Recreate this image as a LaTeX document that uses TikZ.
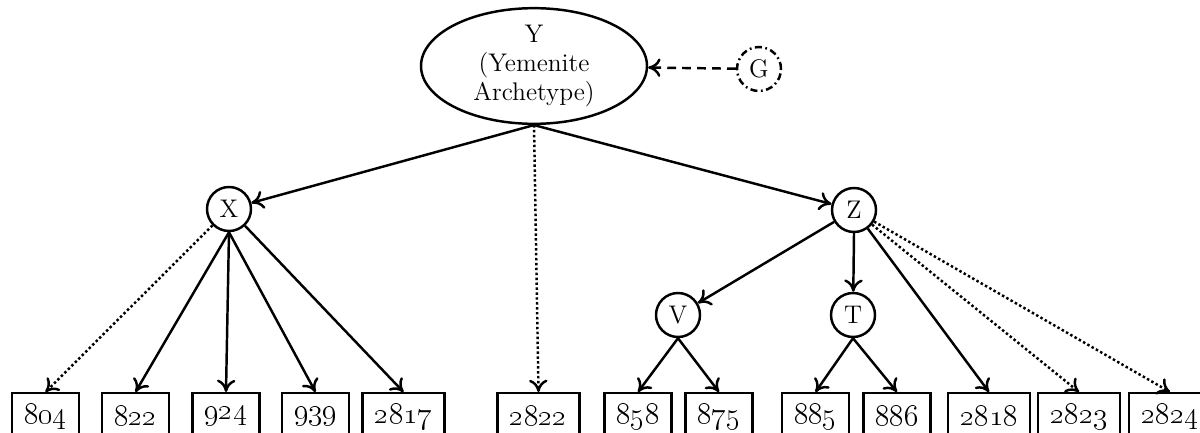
\documentclass[tikz,border=0pt]{standalone}
\usetikzlibrary{arrows.meta,shapes.geometric}
\tikzset{
  vertex/.style={circle,draw,line width=1.4pt,minimum size=8.8mm,inner sep=0pt},
  leaf/.style={rectangle,draw,line width=1.4pt,anchor=north,minimum height=9.2mm,inner xsep=7pt,font=\fontsize{16.5}{18}\selectfont},
  edge/.style={line width=1.4pt,-{To[length=7pt,width=10.5pt]}},
  lost/.style={edge,dash pattern=on 1.4pt off 1.4pt},
}
\begin{document}
\begin{tikzpicture}[x=0.2mm,y=-0.2mm,font=\fontsize{14.5}{16.5}\selectfont]
\useasboundingbox (0,0) rectangle (1200,432);
\node[ellipse,draw,line width=1.4pt,minimum width=45.2mm,minimum height=21.2mm,inner sep=0pt,align=center] (Y) at (534,66) {Y\\(Yemenite\\Archetype)};
\node[vertex,dash pattern=on 4pt off 2pt on 1pt off 2pt] (G) at (759,69) {G};
\node[vertex] (X) at (229,209) {X};
\node[vertex] (Z) at (854,210) {Z};
\node[vertex] (V) at (678,315) {V};
\node[vertex] (T) at (853,315) {T};
\foreach \n/\x in {804/45.5,822/135.5,924/226,939/315.5,2817/403.5,2822/538.5,858/638,875/719,885/815.5,886/897,2818/989,2823/1079,2824/1170}{
\node[leaf] (b\n) at (\x,392) {\oldstylenums{\n}};
}
\draw[edge,dash pattern=on 5pt off 3.5pt] (G) -- (Y);
\draw[edge] (Y.south) -- (X);
\draw[edge] (Y.south) -- (Z);
\draw[lost] (Y.south) -- (b2822.north);
\draw[lost] (X) -- (b804.north);
\foreach \n in {822,924,939}{
\draw[edge] (X.south) -- (b\n.north);
}
\draw[edge] (X) -- (b2817.north);
\draw[edge] (Z) -- (V);
\draw[edge] (Z.south) -- (T);
\draw[edge] (Z) -- (b2818.north);
\foreach \n in {2823,2824}{
\draw[lost] (Z) -- (b\n.north);
}
\draw[edge] (V.south) -- (b858.north);
\draw[edge] (V.south) -- (b875.north);
\draw[edge] (T.south) -- (b885.north);
\draw[edge] (T.south) -- (b886.north);
\end{tikzpicture}
\end{document}
